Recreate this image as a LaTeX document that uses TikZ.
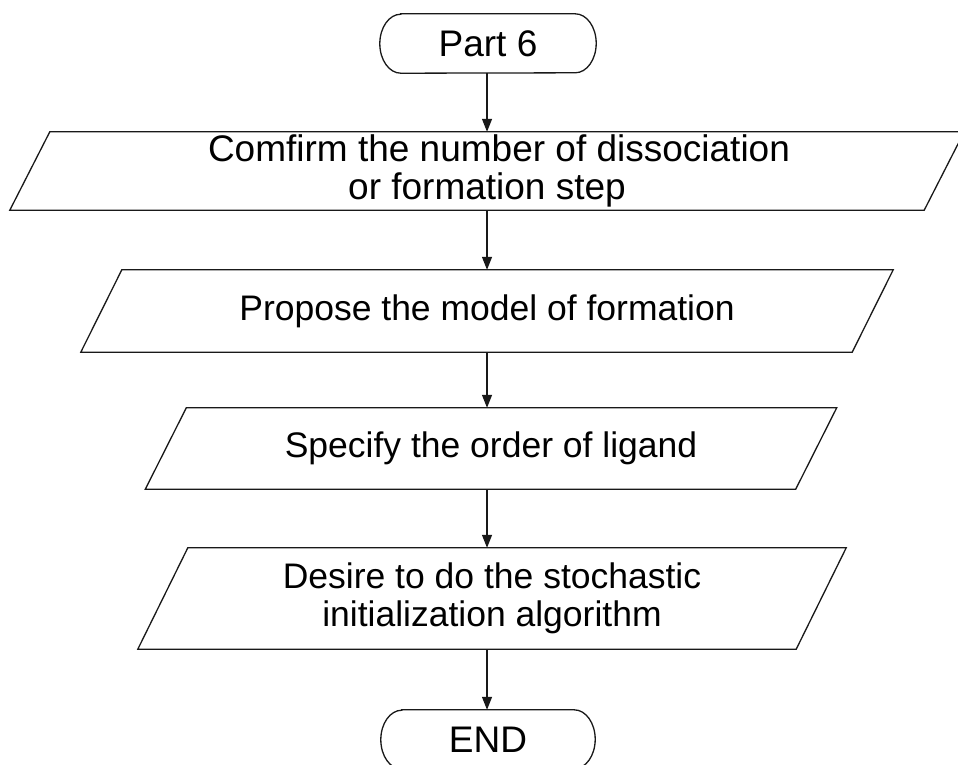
\documentclass[tikz,border=0pt]{standalone}
\usepackage{fontspec}
\setmainfont{Liberation Sans}
\usetikzlibrary{arrows.meta}

% parallelogram (data box) around a node, #2 = half of the horizontal slant
\newcommand\ioframe[2]{%
  \draw[frame] ([xshift=-#2]#1.south west) -- ([xshift=#2]#1.north west)
    -- ([xshift=#2]#1.north east) -- ([xshift=-#2]#1.south east) -- cycle;}
% terminal with elliptic ends
\newcommand\termframe[1]{%
  \draw[frame] ([xshift=21pt]#1.north west) -- ([xshift=-21pt]#1.north east)
    arc[start angle=90,end angle=-90,x radius=21pt,y radius=29.5pt]
    -- ([xshift=21pt]#1.south west)
    arc[start angle=270,end angle=90,x radius=21pt,y radius=29.5pt] -- cycle;}

\tikzset{
  frame/.style={draw=black!90, line width=1.3pt, line join=miter},
  box/.style={inner sep=0pt, align=center,
    font=\fontsize{37}{38}\selectfont},
  smallbox/.style={box, font=\fontsize{35.5}{38}\selectfont},
  flow/.style={draw=black!90, line width=1.3pt,
    -{Triangle[length=13pt,width=10pt]}},
}

\begin{document}
\begin{tikzpicture}[x=1pt,y=-1pt]
  \useasboundingbox (0,0) rectangle (958,764);
  \clip (0,0) rectangle (958,764);
  \fill[white] (0,0) rectangle (958,764);

  \coordinate (axis) at (487,0);

  \node[box, minimum width=216pt, minimum height=59pt] (start) at (488,43.5) {Part 6};
  \node[box, minimum width=914pt, minimum height=78pt] (p1) at (487,171)
    {\hspace*{24pt}Comfirm the number of dissociation\\or formation step};
  \node[smallbox, minimum width=771pt, minimum height=82pt] (p2) at (487,311)
    {Propose the model of formation};
  \node[smallbox, minimum width=650pt, minimum height=81pt] (p3) at (491,448.5)
    {Specify the order of ligand};
  \node[smallbox, minimum width=658pt, minimum height=101pt] (p4) at (492,598.5)
    {Desire to do the stochastic\\initialization algorithm};
  \node[box, minimum width=214pt, minimum height=59pt] (end) at (488,739.5) {END};

  \termframe{start}
  \ioframe{p1}{20pt}
  \ioframe{p2}{20.5pt}
  \ioframe{p3}{20.5pt}
  \ioframe{p4}{25pt}
  \termframe{end}

  \draw[flow] (axis |- start.south) -- (axis |- p1.north);
  \draw[flow] (axis |- p1.south) -- (axis |- p2.north);
  \draw[flow] (axis |- p2.south) -- (axis |- p3.north);
  \draw[flow] (axis |- p3.south) -- (axis |- p4.north);
  \draw[flow] (axis |- p4.south) -- (axis |- end.north);
\end{tikzpicture}
\end{document}
